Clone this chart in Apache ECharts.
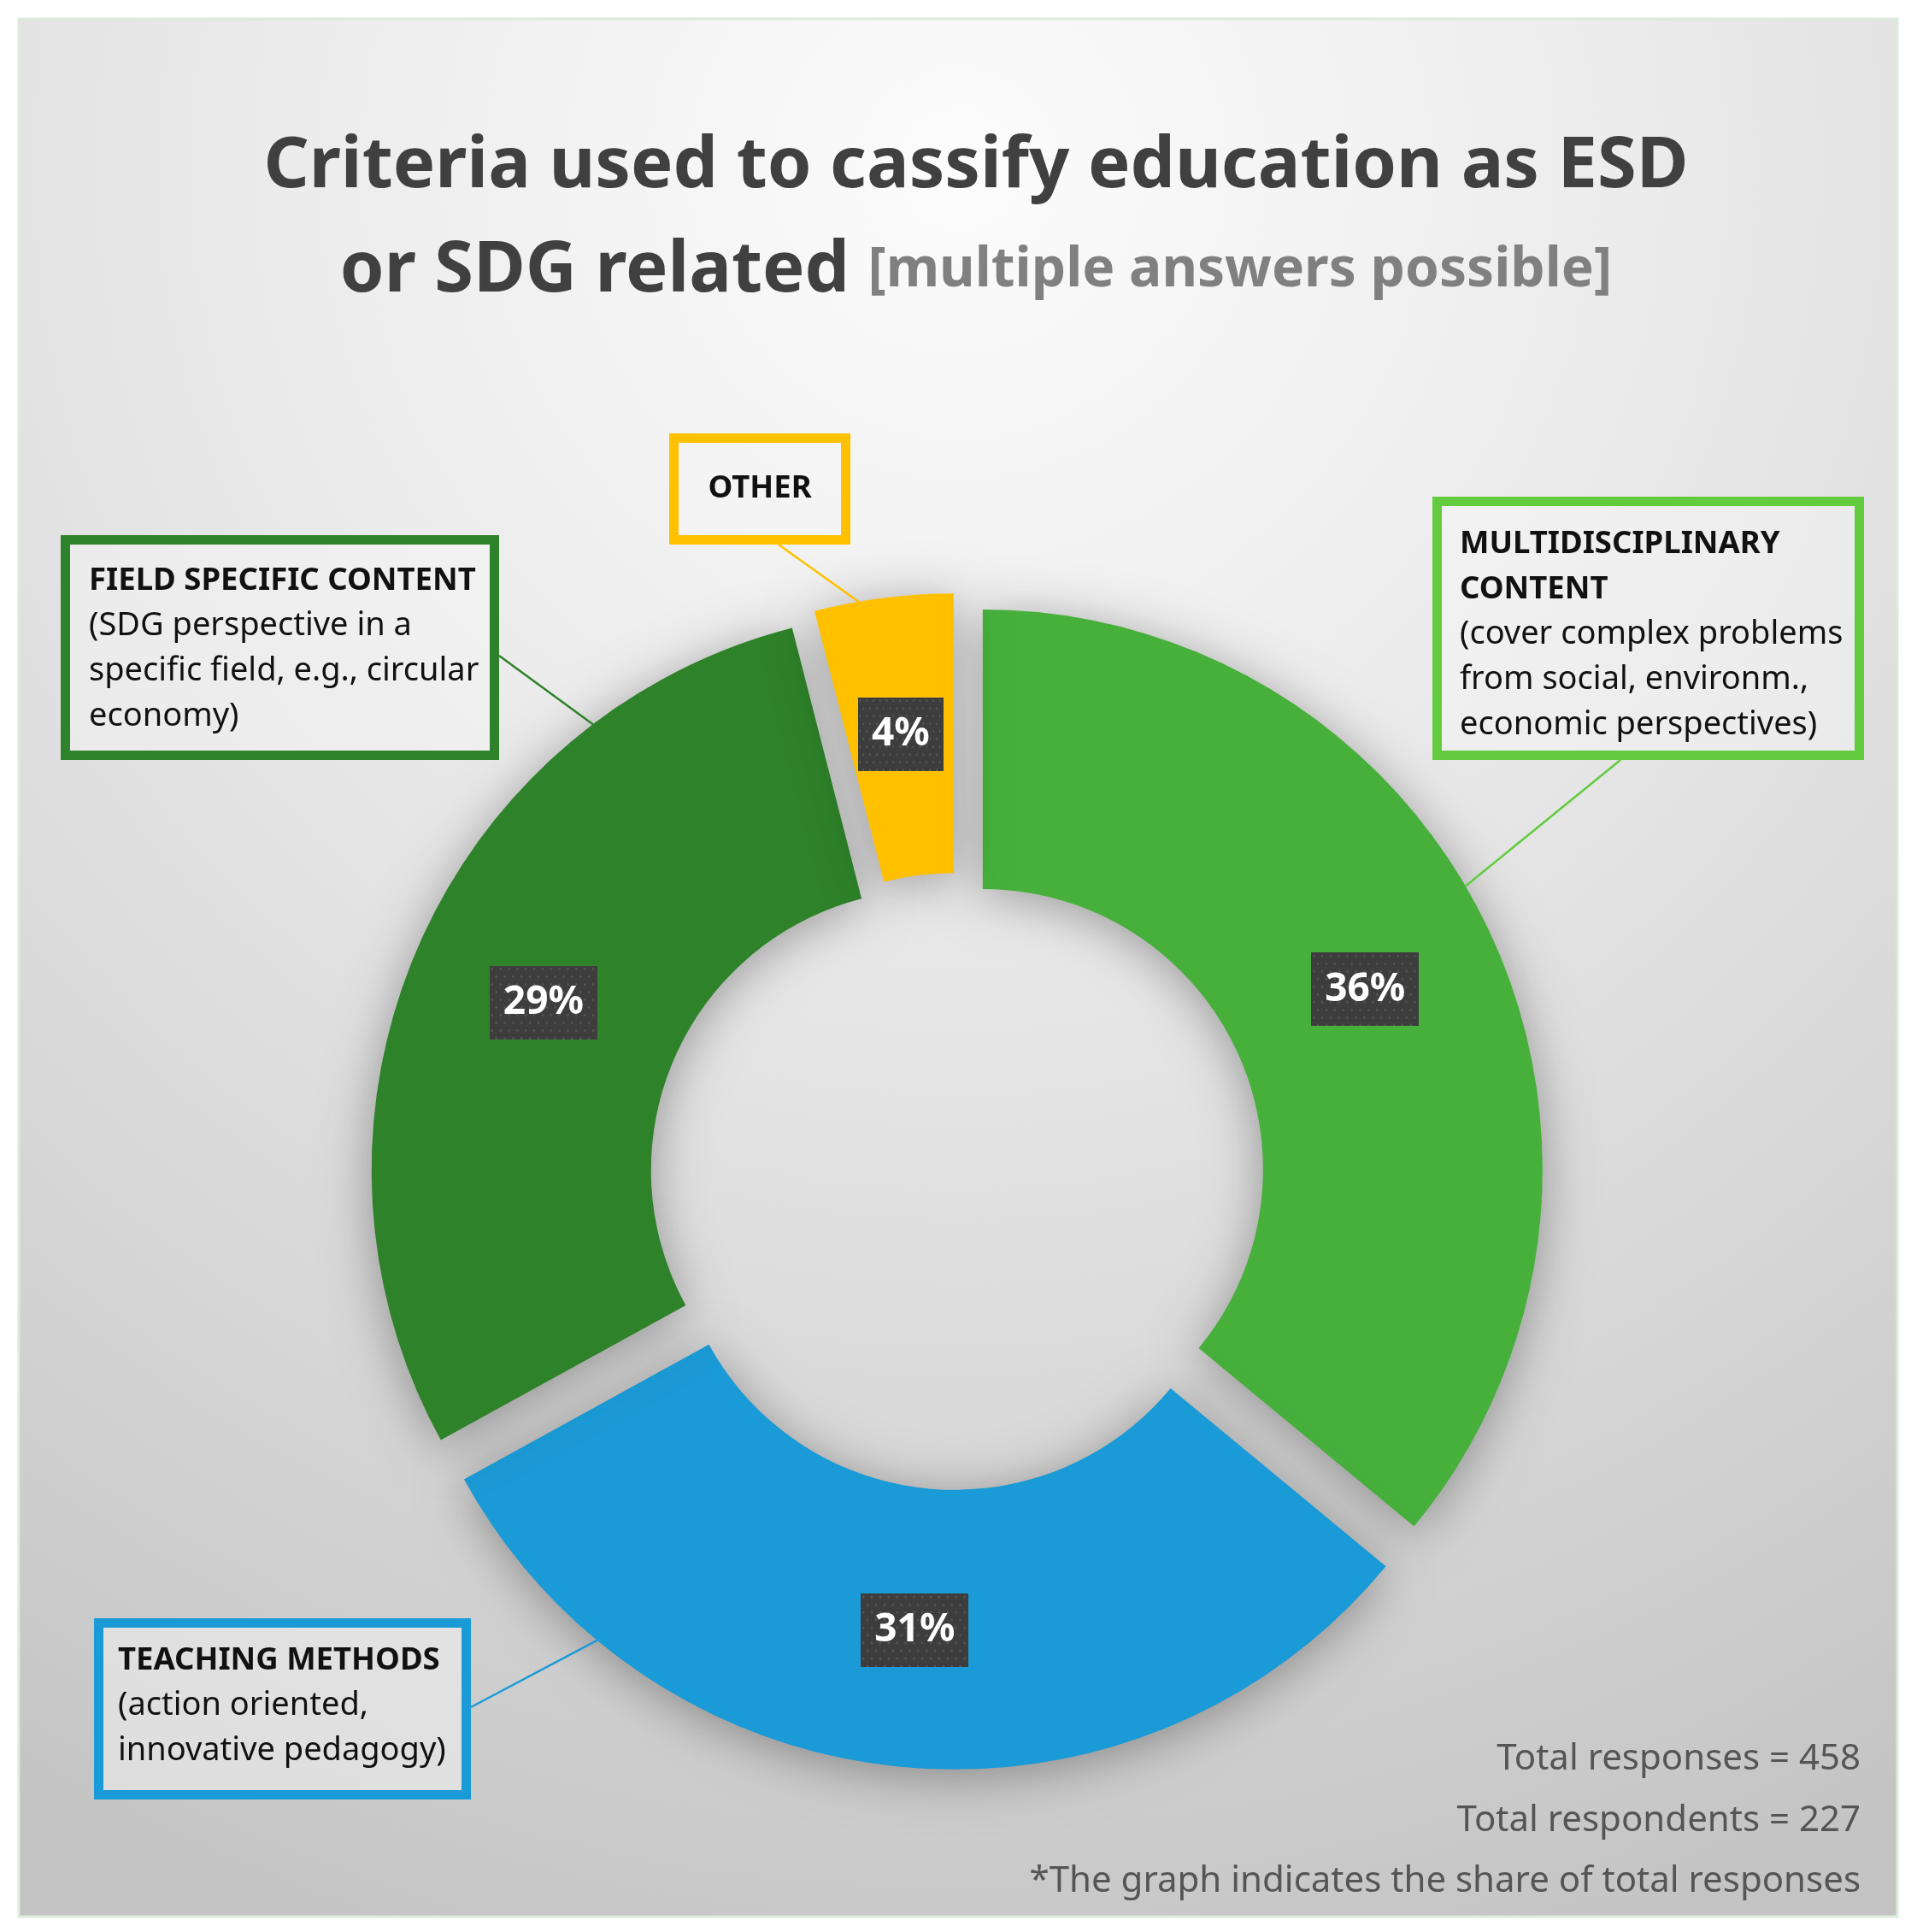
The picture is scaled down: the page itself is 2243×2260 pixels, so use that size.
<!DOCTYPE html>
<html>
<head>
<meta charset="utf-8">
<title>Criteria used to classify education as ESD or SDG related</title>
<script src="https://cdn.jsdelivr.net/npm/echarts@6/dist/echarts.min.js"></script>
<style>
  html, body { margin: 0; padding: 0; background: #fff; }
  #main { width: 2243px; height: 2260px; }
</style>
</head>
<body>
<div id="main"></div>
<script>
// share of total responses, clockwise from 12 o'clock
const categories = ['Multidisciplinary content', 'Teaching methods', 'Field specific content', 'Other'];
const shares = [36, 31, 29, 4];
const totalResponses = 458;
const totalRespondents = 227;

const calloutHeads = [['MULTIDISCIPLINARY', 'CONTENT'], ['TEACHING METHODS'], ['FIELD SPECIFIC CONTENT'], ['OTHER']];
const calloutNotes = [
  ['(cover complex problems', 'from social, environm.,', 'economic perspectives)'],
  ['(action oriented,', 'innovative pedagogy)'],
  ['(SDG perspective in a', 'specific field, e.g., circular', 'economy)'],
  []
];

const colors = ['#46b03b', '#1a9ad6', '#2e8229', '#ffc000'];
const boxColors = ['#62cc3e', '#1a9ad6', '#2e8229', '#ffc000'];
const FONT = 'Noto Sans';

// donut geometry (px)
const CX = 1120, CY = 1382, R0 = 328, R1 = 655, EXPLODE = 33;
const BORDER = 11;

// callout boxes: outer rect, where the text starts, where the leader line meets slice / box
const boxes = [
  {x: 1676, y: 581, w: 505, h: 308, tx: 1708, ty: 610, anchorDeg: 59.6, attach: [1896, 889]},
  {x: 110, y: 1893, w: 441, h: 212, tx: 138, ty: 1916, anchorDeg: 219.7, attach: [551, 1997]},
  {x: 71, y: 626, w: 513, h: 263, tx: 104, ty: 653, anchorDeg: 322.8, attach: [584, 767]},
  {x: 783, y: 507, w: 212, h: 130, tx: 889, ty: 572, anchorDeg: 350.2, attach: [911, 637], centered: true}
];

// point on the outer rim of exploded slice i, at the given angle
function anchorPoint(i) {
  const total = shares.reduce((a, b) => a + b, 0);
  let cum = 0;
  for (let k = 0; k < i; k++) cum += shares[k];
  const mid = (cum + shares[i] / 2) / total * 2 * Math.PI;
  const a = boxes[i].anchorDeg * Math.PI / 180;
  return [CX + EXPLODE * Math.sin(mid) + R1 * Math.sin(a),
          CY - EXPLODE * Math.cos(mid) - R1 * Math.cos(a)];
}

// dark dotted tile behind the percentages
function dotPattern(w, h) {
  const c = document.createElement('canvas');
  c.width = w; c.height = h;
  const g = c.getContext('2d');
  g.fillStyle = '#3d3d3d';
  g.fillRect(0, 0, w, h);
  g.fillStyle = 'rgba(255,255,255,0.14)';
  let row = 0;
  for (let y = 4; y < h; y += 9, row++) {
    for (let x = row % 2 ? 8 : 3; x < w; x += 10) {
      g.beginPath(); g.arc(x, y, 1.4, 0, Math.PI * 2); g.fill();
    }
  }
  return c;
}

const pieData = categories.map((name, i) => ({
  name, value: shares[i], selected: true,
  itemStyle: {color: colors[i]}
}));

// callout boxes + leader lines
const calloutGraphics = [];
boxes.forEach((b, i) => {
  const a = anchorPoint(i);
  calloutGraphics.push({
    type: 'line', z: 10, silent: true,
    shape: {x1: a[0], y1: a[1], x2: b.attach[0], y2: b.attach[1]},
    style: {stroke: boxColors[i], lineWidth: 2.5}
  });
  calloutGraphics.push({
    type: 'rect', z: 11, silent: true,
    shape: {x: b.x + BORDER / 2, y: b.y + BORDER / 2, width: b.w - BORDER, height: b.h - BORDER},
    style: {fill: 'rgba(245,245,245,0.5)', stroke: boxColors[i], lineWidth: BORDER}
  });
  const lines = calloutHeads[i].map(t => '{h|' + t + '}')
    .concat(calloutNotes[i].map(t => '{n|' + t + '}'));
  calloutGraphics.push({
    type: 'text', z: 12, silent: true, x: b.tx, y: b.ty,
    style: {
      text: lines.join('\n'),
      align: b.centered ? 'center' : 'left',
      verticalAlign: b.centered ? 'middle' : 'top',
      rich: {
        h: {fill: '#111', fontSize: 36.5, fontWeight: 'bold', fontFamily: FONT, lineHeight: 53},
        n: {fill: '#111', fontSize: 38, fontFamily: FONT, lineHeight: 53}
      }
    }
  });
});

var myChart = echarts.init(document.getElementById('main'));

var option = {
  animation: false,
  graphic: [
    {
      type: 'rect', z: -10, silent: true,
      shape: {x: 22, y: 22, width: 2198, height: 2220},
      style: {
        fill: new echarts.graphic.RadialGradient(0.5, 0.08, 1, [
          {offset: 0, color: '#fcfcfc'},
          {offset: 0.35, color: '#ececec'},
          {offset: 0.7, color: '#d7d7d7'},
          {offset: 1, color: '#c4c4c4'}
        ]),
        stroke: '#dcebdc', lineWidth: 3
      }
    },
    {
      type: 'text', x: 1142, y: 134, silent: true,
      style: {
        text: '{a|Criteria used to cassify education as ESD}\n{a|or SDG related }{b|[multiple answers possible]}',
        align: 'center', verticalAlign: 'top',
        rich: {
          a: {fill: '#404040', fontSize: 83, fontWeight: 'bold', fontFamily: FONT, lineHeight: 122},
          b: {fill: '#808080', fontSize: 64, fontWeight: 'bold', fontFamily: FONT, lineHeight: 122}
        }
      }
    },
    {
      type: 'text', x: 2177, y: 2130, silent: true,
      style: {
        text: 'Total responses = ' + totalResponses + '\nTotal respondents = ' + totalRespondents +
              '\n*The graph indicates the share of total responses',
        align: 'right', verticalAlign: 'middle',
        fill: '#555', fontSize: 42, fontFamily: FONT, lineHeight: 71.5
      }
    }
  ].concat(calloutGraphics),
  series: [
    {
      type: 'pie',
      silent: true,
      center: [CX, CY],
      radius: [R0, R1],
      startAngle: 90,
      selectedMode: 'multiple',
      selectedOffset: EXPLODE,
      avoidLabelOverlap: false,
      emphasis: {disabled: true},
      itemStyle: {shadowBlur: 60, shadowColor: 'rgba(0,0,0,0.34)', shadowOffsetY: 8},
      label: {
        show: true,
        position: 'inside',
        formatter: p => Math.round(p.percent) + '%',
        color: '#fff', fontSize: 46, fontWeight: 'bold', fontFamily: FONT,
        lineHeight: 56,
        overflow: 'none',
        backgroundColor: {image: dotPattern(128, 86)},
        padding: [15, 16, 15, 16],
        shadowColor: 'rgba(0,0,0,0.55)', shadowBlur: 14, shadowOffsetX: 5, shadowOffsetY: 7
      },
      labelLine: {show: false},
      data: pieData
    }
  ]
};

myChart.setOption(option);
</script>
</body>
</html>
